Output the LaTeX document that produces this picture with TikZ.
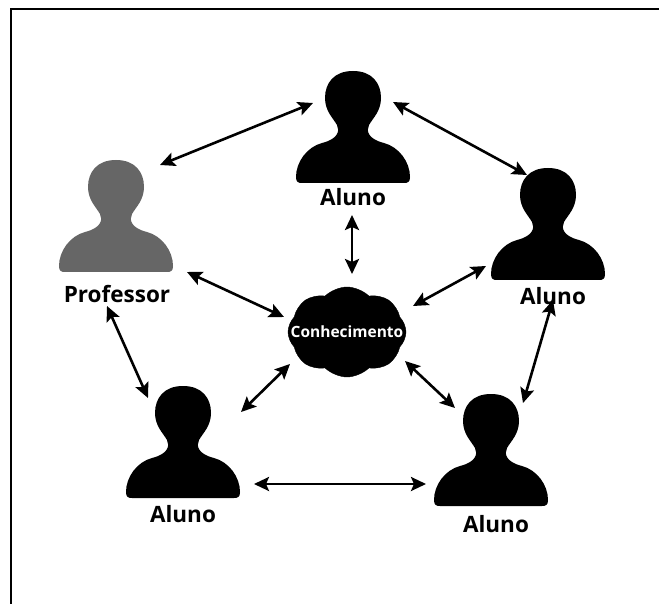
\documentclass[tikz,border=0pt]{standalone}
\usepackage{fontspec}
\setmainfont{Open Sans}
\usetikzlibrary{arrows.meta,shapes.symbols}
\tikzset{
	personbox/.style={minimum width=110pt, minimum height=110pt, inner sep=0pt},
	nome/.style={font=\fontsize{22.5}{24}\selectfont\bfseries, inner sep=0pt},
	ligacao/.style={{Stealth[length=15pt,width=14pt,inset=3pt]}-{Stealth[length=15pt,width=14pt,inset=3pt]}, line width=2.6pt, black},
	nuvem/.style={cloud, cloud puffs=8, cloud puff arc=90, aspect=1.35, fill=black, draw=black, minimum width=118pt, minimum height=90pt, inner sep=0pt},
	nuvemtexto/.style={text=white, font=\fontsize{15.5}{18}\selectfont\bfseries, inner sep=0pt},
	pessoa/.pic={
		\fill[pic actions] (0,-56) .. controls (19,-56) and (28,-44) .. (28,-29)
			.. controls (28,-16) and (20,-9) .. (16,-2)
			.. controls (13,4) and (15,12) .. (31,16)
			.. controls (46,20) and (57,35) .. (57,50)
			.. controls (57,55) and (55,56) .. (51,56)
			-- (-51,56)
			.. controls (-55,56) and (-57,55) .. (-57,50)
			.. controls (-57,35) and (-46,20) .. (-31,16)
			.. controls (-15,12) and (-13,4) .. (-16,-2)
			.. controls (-20,-9) and (-28,-16) .. (-28,-29)
			.. controls (-28,-44) and (-19,-56) .. (0,-56) -- cycle;
	}
}
\begin{document}
\begin{tikzpicture}[x=1pt,y=-1pt]
	\useasboundingbox (0,0) rectangle (659,604);
	\draw[line width=2.6pt] (11,604) -- (11,9) -- (659,9);
	\node[personbox] (topo) at (353,127) {};
	\node[personbox] (professor) at (116,216) {};
	\node[personbox] (direita) at (548,224) {};
	\node[personbox] (esquerda) at (183,442) {};
	\node[personbox] (baixo) at (491,450) {};
	\pic[black] at (topo) {pessoa};
	\pic[black!60] at (professor) {pessoa};
	\pic[black] at (direita) {pessoa};
	\pic[black] at (esquerda) {pessoa};
	\pic[black] at (baixo) {pessoa};
	\node[nome] (nometopo) at (353,197) {Aluno};
	\node[nome] (nomeprofessor) at (117,294) {Professor};
	\node[nome] (nomedireita) at (553,296) {Aluno};
	\node[nome] (nomeesquerda) at (183,514) {Aluno};
	\node[nome] (nomebaixo) at (496,524) {Aluno};
	\node[nuvem, label={[nuvemtexto]center:Conhecimento}] (conhecimento) at (347,332) {};
	\draw[ligacao] ([shift={(-40,-24)}]topo.center) -- ([shift={(44,-51)}]professor.center);
	\draw[ligacao] ([shift={(40,-25)}]topo.center) -- ([shift={(-21,-49)}]direita.center);
	\draw[ligacao] ([shift={(-1,88)}]topo.center) -- ([shift={(5,-58)}]conhecimento.center);
	\draw[ligacao] ([shift={(71,56)}]professor.center) -- ([shift={(-63,-15)}]conhecimento.center);
	\draw[ligacao] ([shift={(-62,42)}]direita.center) -- ([shift={(66,-26)}]conhecimento.center);
	\draw[ligacao] ([shift={(5,76)}]direita.center) -- ([shift={(32,-47)}]baixo.center);
	\draw[ligacao] ([shift={(-9,90)}]professor.center) -- ([shift={(-35,-44)}]esquerda.center);
	\draw[ligacao] ([shift={(-57,32)}]conhecimento.center) -- ([shift={(58,-30)}]esquerda.center);
	\draw[ligacao] ([shift={(58,29)}]conhecimento.center) -- ([shift={(-36,-42)}]baixo.center);
	\draw[ligacao] ([shift={(71,42)}]esquerda.center) -- ([shift={(-65,34)}]baixo.center);
\end{tikzpicture}
\end{document}
